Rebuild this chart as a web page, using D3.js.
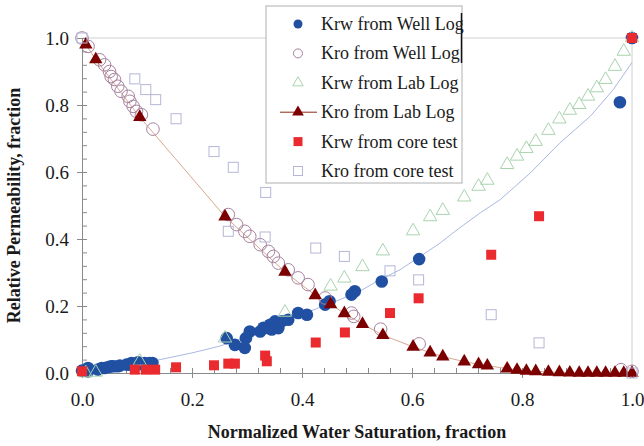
<!DOCTYPE html>
<html>
<head>
<meta charset="utf-8">
<script src="https://cdn.jsdelivr.net/npm/d3@7"></script>
<style>
  body { margin: 0; background: #fff; }
  svg text { font-family: "Liberation Serif", "Times New Roman", serif; fill: #1a1a1a; }
</style>
</head>
<body>
<div id="chart"></div>
<script>
// series: [Sw, kr]
const krwWell = [
  [0,0.007],[0.011,0.005],[0.011,0.015],[0.029,0.01],[0.036,0.015],[0.041,0.015],[0.048,0.018],
  [0.053,0.02],[0.057,0.02],[0.065,0.02],[0.069,0.022],[0.081,0.025],[0.087,0.025],[0.09,0.03],
  [0.096,0.02],[0.102,0.032],[0.111,0.025],[0.114,0.03],[0.123,0.03],[0.128,0.03],
  [0.263,0.104],[0.278,0.084],[0.296,0.075],[0.298,0.104],[0.305,0.124],[0.324,0.124],[0.33,0.135],
  [0.339,0.134],[0.342,0.144],[0.345,0.13],[0.351,0.154],[0.357,0.134],[0.363,0.154],[0.375,0.159],
  [0.393,0.179],[0.409,0.174],[0.442,0.204],[0.45,0.214],[0.49,0.234],[0.496,0.244],[0.545,0.273],
  [0.613,0.34],[0.978,0.808],[1.0,1.0]
];
const kroWell = [
  [0,1.0],[0.011,0.975],[0.032,0.935],[0.041,0.92],[0.05,0.9],[0.053,0.885],[0.059,0.876],
  [0.065,0.856],[0.071,0.841],[0.084,0.826],[0.087,0.811],[0.093,0.796],[0.099,0.781],[0.108,0.771],
  [0.129,0.728],[0.266,0.473],[0.281,0.443],[0.296,0.423],[0.305,0.408],[0.324,0.383],[0.339,0.363],
  [0.348,0.348],[0.357,0.328],[0.375,0.308],[0.393,0.284],[0.411,0.264],[0.442,0.224],[0.49,0.179],
  [0.494,0.169],[0.543,0.131],[0.613,0.087],[0.98,0.01],[1.0,0.005]
];
const krwLab = [
  [0.007,0],[0.025,0.002],[0.105,0.035],[0.26,0.104],[0.369,0.181],[0.452,0.259],[0.477,0.283],
  [0.51,0.317],[0.547,0.364],[0.602,0.424],[0.633,0.466],[0.656,0.485],[0.695,0.525],[0.721,0.557],
  [0.737,0.575],[0.773,0.622],[0.791,0.647],[0.808,0.67],[0.825,0.691],[0.848,0.724],[0.868,0.758],
  [0.887,0.784],[0.904,0.801],[0.92,0.826],[0.936,0.851],[0.952,0.876],[0.969,0.915],[0.985,0.96],[1.0,1.0]
];
const kroLab = [
  [0.007,0.98],[0.025,0.936],[0.105,0.764],[0.26,0.467],[0.369,0.302],[0.424,0.232],[0.452,0.205],
  [0.477,0.178],[0.51,0.146],[0.547,0.113],[0.602,0.078],[0.633,0.061],[0.656,0.049],[0.695,0.034],
  [0.721,0.026],[0.737,0.022],[0.773,0.013],[0.791,0.009],[0.808,0.006],[0.825,0.005],[0.848,0.003],
  [0.868,0.002],[0.887,0.001],[0.904,0],[0.92,0],[0.936,0],[0.952,0],[0.969,0],[0.985,0],[1.0,0]
];
const krwCore = [
  [0,0.005],[0.096,0.01],[0.116,0.01],[0.133,0.01],[0.171,0.017],[0.24,0.023],[0.266,0.028],
  [0.278,0.028],[0.333,0.052],[0.336,0.035],[0.425,0.091],[0.478,0.121],[0.56,0.179],[0.612,0.223],
  [0.744,0.353],[0.831,0.468],[1.0,1.0]
];
const kroCore = [
  [0,1.0],[0.096,0.878],[0.116,0.846],[0.134,0.816],[0.171,0.759],[0.24,0.661],[0.266,0.423],
  [0.275,0.614],[0.333,0.406],[0.334,0.539],[0.425,0.373],[0.477,0.348],[0.56,0.305],[0.612,0.278],
  [0.744,0.174],[0.831,0.09],[1.0,0]
];
// thin blue curve (no legend entry)
const krwFit = [
  [0,0],[0.05,0.012],[0.1,0.027],[0.142,0.04],[0.2,0.06],[0.25,0.08],[0.3,0.108],[0.35,0.14],
  [0.4,0.175],[0.469,0.219],[0.505,0.244],[0.542,0.279],[0.578,0.308],[0.615,0.348],[0.651,0.388],
  [0.684,0.43],[0.724,0.478],[0.76,0.517],[0.815,0.597],[0.869,0.687],[0.924,0.766],[0.966,0.846],[1.0,0.927]
];
const majorTicks = [0, 0.2, 0.4, 0.6, 0.8, 1.0];
const legendNames = ["Krw from Well Log", "Kro from Well Log", "Krw from Lab Log",
  "Kro from Lab Log", "Krw from core test", "Kro from core test"];

const width = 644, height = 446;
const margin = {top: 38, right: 12, bottom: 73, left: 82};

const svg = d3.select("#chart").append("svg").attr("width", width).attr("height", height);

const x = d3.scaleLinear().domain([0, 1]).range([margin.left, width - margin.right]);
const y = d3.scaleLinear().domain([0, 1]).range([height - margin.bottom, margin.top]);

// plot frame (top / right)
svg.append("path")
  .attr("d", `M${x(0)},${y(1)}H${x(1)}V${y(0)}`)
  .attr("fill", "none").attr("stroke", "#d0d0d0");

// minor ticks pointing inward
const minor = d3.range(0, 1.0001, 0.04);
svg.append("g").attr("transform", `translate(0,${y(0)})`)
  .call(d3.axisBottom(x).tickValues(minor).tickSize(-5).tickFormat(""))
  .call(g => g.select(".domain").remove())
  .call(g => g.selectAll("line").attr("stroke", "#8a8a8a"));
svg.append("g").attr("transform", `translate(${x(0)},0)`)
  .call(d3.axisLeft(y).tickValues(minor).tickSize(-5).tickFormat(""))
  .call(g => g.select(".domain").remove())
  .call(g => g.selectAll("line").attr("stroke", "#8a8a8a"));

const xAxis = svg.append("g").attr("transform", `translate(0,${y(0)})`)
  .call(d3.axisBottom(x).tickValues(majorTicks).tickSize(5).tickSizeOuter(0).tickPadding(15).tickFormat(d3.format(".1f")));
const yAxis = svg.append("g").attr("transform", `translate(${x(0)},0)`)
  .call(d3.axisLeft(y).tickValues(majorTicks).tickSize(5).tickSizeOuter(0).tickPadding(8).tickFormat(d3.format(".1f")));
[xAxis, yAxis].forEach(g => {
  g.selectAll(".domain, line").attr("stroke", "#8a8a8a");
  g.selectAll("text").style("font-size", "19px").attr("fill", "#1a1a1a");
});

// axis titles
svg.append("text")
  .attr("x", (x(0) + x(1)) / 2).attr("y", 438)
  .attr("text-anchor", "middle")
  .style("font-size", "18px").style("font-weight", "bold")
  .text("Normalized Water Saturation, fraction");
svg.append("text")
  .attr("transform", `translate(20,${(y(0) + y(1)) / 2}) rotate(-90)`)
  .attr("text-anchor", "middle")
  .style("font-size", "18px").style("font-weight", "bold")
  .text("Relative Permeability, fraction");

const line = d3.line().x(d => x(d[0])).y(d => y(d[1]));

// lines under markers
svg.append("path").datum(krwFit).attr("d", line)
  .attr("fill", "none").attr("stroke", "#a9b9e3").attr("stroke-width", 1);
svg.append("path").datum(kroLab).attr("d", line)
  .attr("fill", "none").attr("stroke", "#d6a891").attr("stroke-width", 1);

const tri = d3.symbol().type(d3.symbolTriangle).size(78);
const plot = svg.append("g");

plot.selectAll(".krwWell").data(krwWell).join("circle")
  .attr("cx", d => x(d[0])).attr("cy", d => y(d[1])).attr("r", 6.3)
  .attr("fill", "#2150a2");

plot.selectAll(".kroWell").data(kroWell).join("circle")
  .attr("cx", d => x(d[0])).attr("cy", d => y(d[1])).attr("r", 6.3)
  .attr("fill", "none").attr("stroke", "#a6829e").attr("stroke-width", 1);

plot.selectAll(".krwLab").data(krwLab).join("path")
  .attr("d", tri).attr("transform", d => `translate(${x(d[0])},${y(d[1])})`)
  .attr("fill", "none").attr("stroke", "#a9d3ae").attr("stroke-width", 1);

plot.selectAll(".kroLab").data(kroLab).join("path")
  .attr("d", tri).attr("transform", d => `translate(${x(d[0])},${y(d[1])})`)
  .attr("fill", "#7d0000");

plot.selectAll(".krwCore").data(krwCore).join("rect")
  .attr("x", d => x(d[0]) - 5).attr("y", d => y(d[1]) - 5).attr("width", 10).attr("height", 10)
  .attr("fill", "#ea2a2e");

plot.selectAll(".kroCore").data(kroCore).join("rect")
  .attr("x", d => x(d[0]) - 5).attr("y", d => y(d[1]) - 5).attr("width", 10).attr("height", 10)
  .attr("fill", "none").attr("stroke", "#b6b6d8").attr("stroke-width", 1);

// legend
const lg = svg.append("g").attr("transform", "translate(266,6)");
lg.append("rect").attr("width", 196).attr("height", 177)
  .attr("fill", "#fff").attr("stroke", "#b0b0b0");
lg.append("line").attr("x1", 195.5).attr("x2", 195.5).attr("y1", 7).attr("y2", 57)
  .attr("stroke", "#111").attr("stroke-width", 1.5);

const rowY = i => 18 + i * 29.4;
const sx = 32;
const rows = lg.selectAll(".row").data(legendNames).join("g")
  .attr("transform", (d, i) => `translate(0,${rowY(i)})`);
rows.append("text").attr("x", 55).attr("y", 6).style("font-size", "18px").text(d => d);

lg.append("circle").attr("cx", sx).attr("cy", rowY(0)).attr("r", 4.5).attr("fill", "#2150a2");
lg.append("circle").attr("cx", sx).attr("cy", rowY(1)).attr("r", 4.5)
  .attr("fill", "none").attr("stroke", "#a6829e");
lg.append("path").attr("d", d3.symbol().type(d3.symbolTriangle).size(48))
  .attr("transform", `translate(${sx},${rowY(2)})`).attr("fill", "none").attr("stroke", "#a9d3ae");
lg.append("line").attr("x1", sx - 18).attr("x2", sx + 19).attr("y1", rowY(3)).attr("y2", rowY(3))
  .attr("stroke", "#8b2a12").attr("stroke-width", 1);
lg.append("path").attr("d", d3.symbol().type(d3.symbolTriangle).size(60))
  .attr("transform", `translate(${sx},${rowY(3)})`).attr("fill", "#7d0000");
lg.append("rect").attr("x", sx - 4.5).attr("y", rowY(4) - 4.5).attr("width", 9).attr("height", 9)
  .attr("fill", "#ea2a2e");
lg.append("rect").attr("x", sx - 4.5).attr("y", rowY(5) - 4.5).attr("width", 9).attr("height", 9)
  .attr("fill", "none").attr("stroke", "#b6b6d8");
</script>
</body>
</html>
